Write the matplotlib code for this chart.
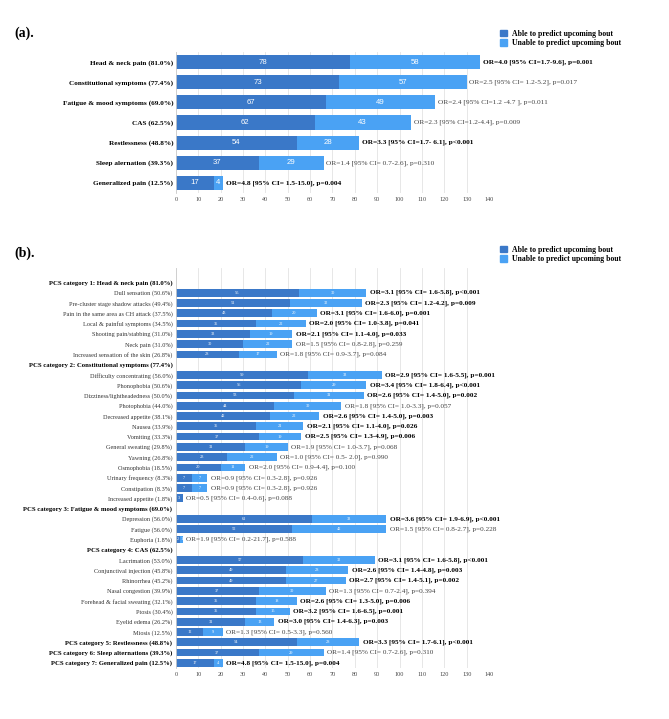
"""Recreate the PCS / bout prediction stacked bar chart"""

import matplotlib.pyplot as plt
from matplotlib.patches import Patch

plt.rcParams['font.family'] = ['Liberation Serif', 'DejaVu Serif']

DARK = '#3A78C8'
LIGHT = '#4AA2F4'

# panel (a): category level
a_labels = ['Head & neck pain (81.0%)', 'Constitutional symptoms (77.4%)',
            'Fatigue & mood symptoms (69.0%)', 'CAS (62.5%)',
            'Restlessness (48.8%)', 'Sleep alernation (39.3%)',
            'Generalized pain (12.5%)']
a_able = [78, 73, 67, 62, 54, 37, 17]
a_unable = [58, 57, 49, 43, 28, 29, 4]
a_or = ['OR=4.0 [95% CI=1.7-9.6], p=0.001',
        'OR=2.5 [95% CI= 1.2-5.2], p=0.017',
        'OR=2.4 [95% CI=1.2 -4.7 ], p=0.011',
        'OR=2.3 [95% CI=1.2-4.4], p=0.009',
        'OR=3.3 [95% CI=1.7- 6.1], p<0.001',
        'OR=1.4 [95% CI= 0.7-2.6], p=0.310',
        'OR=4.8 [95% CI= 1.5-15.0], p=0.004']
a_sig = [True, False, False, False, True, False, True]

# panel (b): symptom level; None means a header row with no bar
b_labels = [
    'PCS category 1: Head & neck pain (81.0%)',
    'Dull sensation (50.6%)', 'Pre-cluster stage shadow attacks (49.4%)',
    'Pain in the same area as CH attack (37.5%)', 'Local & painful symptoms (34.5%)',
    'Shooting pain/stabbing (31.0%)', 'Neck pain (31.0%)',
    'Increased sensation of the skin (26.8%)',
    'PCS category 2: Constitutional symptoms (77.4%)',
    'Difficulty concentrating (56.0%)', 'Phonophobia (50.6%)',
    'Dizziness/lightheadedness (50.0%)', 'Photophobia (44.0%)',
    'Decreased appetite (38.1%)', 'Nausea (33.9%)', 'Vomiting (33.3%)',
    'General sweating (29.8%)', 'Yawning (26.8%)', 'Osmophobia (18.5%)',
    'Urinary frequency (8.3%)', 'Constipation (8.3%)', 'Increased appetite (1.8%)',
    'PCS category 3: Fatigue & mood symptoms (69.0%)',
    'Depression (56.0%)', 'Fatigue (56.0%)', 'Euphoria (1.8%)',
    'PCS category 4: CAS (62.5%)',
    'Lacrimation (53.0%)', 'Conjunctival injection (45.8%)', 'Rhinorrhea (45.2%)',
    'Nasal congestion (39.9%)', 'Forehead & facial sweating (32.1%)',
    'Ptosis (30.4%)', 'Eyelid edema (26.2%)', 'Miosis (12.5%)',
    'PCS category 5: Restlessness (48.8%)',
    'PCS category 6: Sleep alternations (39.3%)',
    'PCS category 7: Generalized pain (12.5%)',
]
b_able = [None, 55, 51, 43, 36, 33, 30, 28,
          None, 59, 56, 53, 44, 42, 36, 37, 31, 23, 20, 7, 7, 3,
          None, 61, 52, 2,
          None, 57, 49, 49, 37, 36, 36, 31, 12,
          54, 37, 17]
b_unable = [None, 30, 32, 20, 22, 19, 22, 17,
            None, 33, 29, 31, 30, 22, 21, 19, 19, 22, 11, 7, 7, 0,
            None, 33, 42, 1,
            None, 32, 28, 27, 30, 18, 15, 13, 9,
            28, 29, 4]
b_or = [None,
        'OR=3.1 [95% CI= 1.6-5.8], p<0.001', 'OR=2.3 [95% CI= 1.2-4.2], p=0.009',
        'OR=3.1 [95% CI= 1.6-6.0], p=0.001', 'OR=2.0 [95% CI= 1.0-3.8], p=0.041',
        'OR=2.1 [95% CI= 1.1-4.0], p=0.033', 'OR=1.5 [95% CI= 0.8-2.8], p=0.259',
        'OR=1.8 [95% CI= 0.9-3.7], p=0.084',
        None,
        'OR=2.9 [95% CI= 1.6-5.5], p=0.001', 'OR=3.4 [95% CI= 1.8-6.4], p<0.001',
        'OR=2.6 [95% CI= 1.4-5.0], p=0.002', 'OR=1.8 [95% CI= 1.0-3.3], p=0.057',
        'OR=2.6 [95% CI= 1.4-5.0], p=0.003', 'OR=2.1 [95% CI= 1.1-4.0], p=0.026',
        'OR=2.5 [95% CI= 1.3-4.9], p=0.006', 'OR=1.9 [95% CI= 1.0-3.7], p=0.068',
        'OR=1.0 [95% CI= 0.5- 2.0], p=0.990', 'OR=2.0 [95% CI= 0.9-4.4], p=0.100',
        'OR=0.9 [95% CI= 0.3-2.8], p=0.926', 'OR=0.9 [95% CI= 0.3-2.8], p=0.926',
        'OR=0.5 [95% CI= 0.4-0.6], p=0.088',
        None,
        'OR=3.6 [95% CI= 1.9-6.9], p<0.001', 'OR=1.5 [95% CI= 0.8-2.7], p=0.228',
        'OR=1.9 [95% CI= 0.2-21.7], p=0.588',
        None,
        'OR=3.1 [95% CI= 1.6-5.8], p<0.001', 'OR=2.6 [95% CI= 1.4-4.8], p=0.003',
        'OR=2.7 [95% CI= 1.4-5.1], p=0.002', 'OR=1.3 [95% CI= 0.7-2.4], p=0.394',
        'OR=2.6 [95% CI= 1.3-5.0], p=0.006', 'OR=3.2 [95% CI= 1.6-6.5], p=0.001',
        'OR=3.0 [95% CI= 1.4-6.3], p=0.003', 'OR=1.3 [95% CI= 0.5-3.3], p=0.560',
        'OR=3.3 [95% CI= 1.7-6.1], p<0.001', 'OR=1.4 [95% CI= 0.7-2.6], p=0.310',
        'OR=4.8 [95% CI= 1.5-15.0], p=0.004']
b_sig = [False, True, True, True, True, True, False, False,
         False, True, True, True, False, True, True, True, False, False, False,
         False, False, False,
         False, True, False, False,
         False, True, True, True, False, True, True, True, False,
         True, False, True]

x_ticks = list(range(0, 141, 10))


def style_axis(ax):
    ax.set_xlim(0, 140)
    ax.set_xticks(x_ticks)
    ax.grid(axis='x', color='#e3e3e3', linewidth=0.6)
    ax.set_axisbelow(True)
    for side in ['top', 'right', 'bottom']:
        ax.spines[side].set_visible(False)
    ax.spines['left'].set_color('#cccccc')
    ax.spines['left'].set_linewidth(0.6)
    ax.tick_params(axis='both', length=0)
    ax.tick_params(axis='x', labelsize=4.4, labelcolor='#444444', pad=3)


def add_legend(ax, y):
    handles = [Patch(color=DARK, label='Able to predict upcoming bout'),
               Patch(color=LIGHT, label='Unable to predict upcoming bout')]
    ax.legend(handles=handles, loc='upper left', bbox_to_anchor=(0.742, y),
              bbox_transform=fig.transFigure, frameon=False,
              prop={'weight': 'bold', 'size': 5.6}, handlelength=0.9,
              handleheight=0.9, handletextpad=0.6, labelspacing=0.15,
              borderpad=0)


def plot_panel_a(ax):
    rows = list(range(len(a_labels)))
    ax.barh(rows, a_able, height=0.7, color=DARK)
    ax.barh(rows, a_unable, left=a_able, height=0.7, color=LIGHT)
    for i in rows:
        ax.text(a_able[i] / 2, i, str(a_able[i]), ha='center', va='center',
                color='white', fontsize=5.6, family='Liberation Sans')
        ax.text(a_able[i] + a_unable[i] / 2, i, str(a_unable[i]), ha='center',
                va='center', color='white', fontsize=5.6, family='Liberation Sans')
        ax.annotate(a_or[i], (a_able[i] + a_unable[i], i), xytext=(2, 0),
                    textcoords='offset points', va='center', fontsize=5.3,
                    fontweight='bold' if a_sig[i] else 'normal',
                    color='black' if a_sig[i] else '#444444')
    ax.set_ylim(len(a_labels) - 0.5, -0.5)
    ax.set_yticks(rows)
    ax.set_yticklabels(a_labels, fontsize=5.2, fontweight='bold')
    ax.tick_params(axis='y', pad=2)
    style_axis(ax)


def plot_panel_b(ax):
    rows = list(range(len(b_labels)))
    for i in rows:
        able = b_able[i]
        if able is None:
            continue
        unable = b_unable[i]
        ax.barh(i, able, height=0.75, color=DARK)
        ax.barh(i, unable, left=able, height=0.75, color=LIGHT)
        ax.text(able / 2, i, str(able), ha='center', va='center',
                color='white', fontsize=3.2)
        if unable > 0:
            ax.text(able + unable / 2, i, str(unable), ha='center',
                    va='center', color='white', fontsize=3.2)
        ax.annotate(b_or[i], (able + unable, i), xytext=(2.5, 0),
                    textcoords='offset points', va='center', fontsize=5.2,
                    fontweight='bold' if b_sig[i] else 'normal',
                    color='black' if b_sig[i] else '#444444')
    ax.set_ylim(len(b_labels) - 0.5, -1.4)
    ax.set_yticks(rows)
    ax.set_yticklabels(b_labels, fontsize=4.5)
    for lbl in ax.get_yticklabels():
        if lbl.get_text().startswith('PCS category'):
            lbl.set_fontweight('bold')
            lbl.set_fontsize(4.8)
        else:
            lbl.set_color('#333333')
    ax.tick_params(axis='y', pad=2.5)
    style_axis(ax)


fig = plt.figure(figsize=(6.69, 7.19), dpi=100)
ax_a = fig.add_axes([0.263, 0.7316, 0.468, 0.1961])
ax_b = fig.add_axes([0.263, 0.0709, 0.468, 0.5564])

plot_panel_a(ax_a)
plot_panel_b(ax_b)
add_legend(ax_a, 1 - 26 / 719)
add_legend(ax_b, 1 - 242 / 719)

fig.text(0.022, 1 - 33 / 719, '(a).', fontsize=10, fontweight='bold', va='center')
fig.text(0.022, 1 - 253 / 719, '(b).', fontsize=10, fontweight='bold', va='center')

fig.savefig('out.png', dpi=100)
